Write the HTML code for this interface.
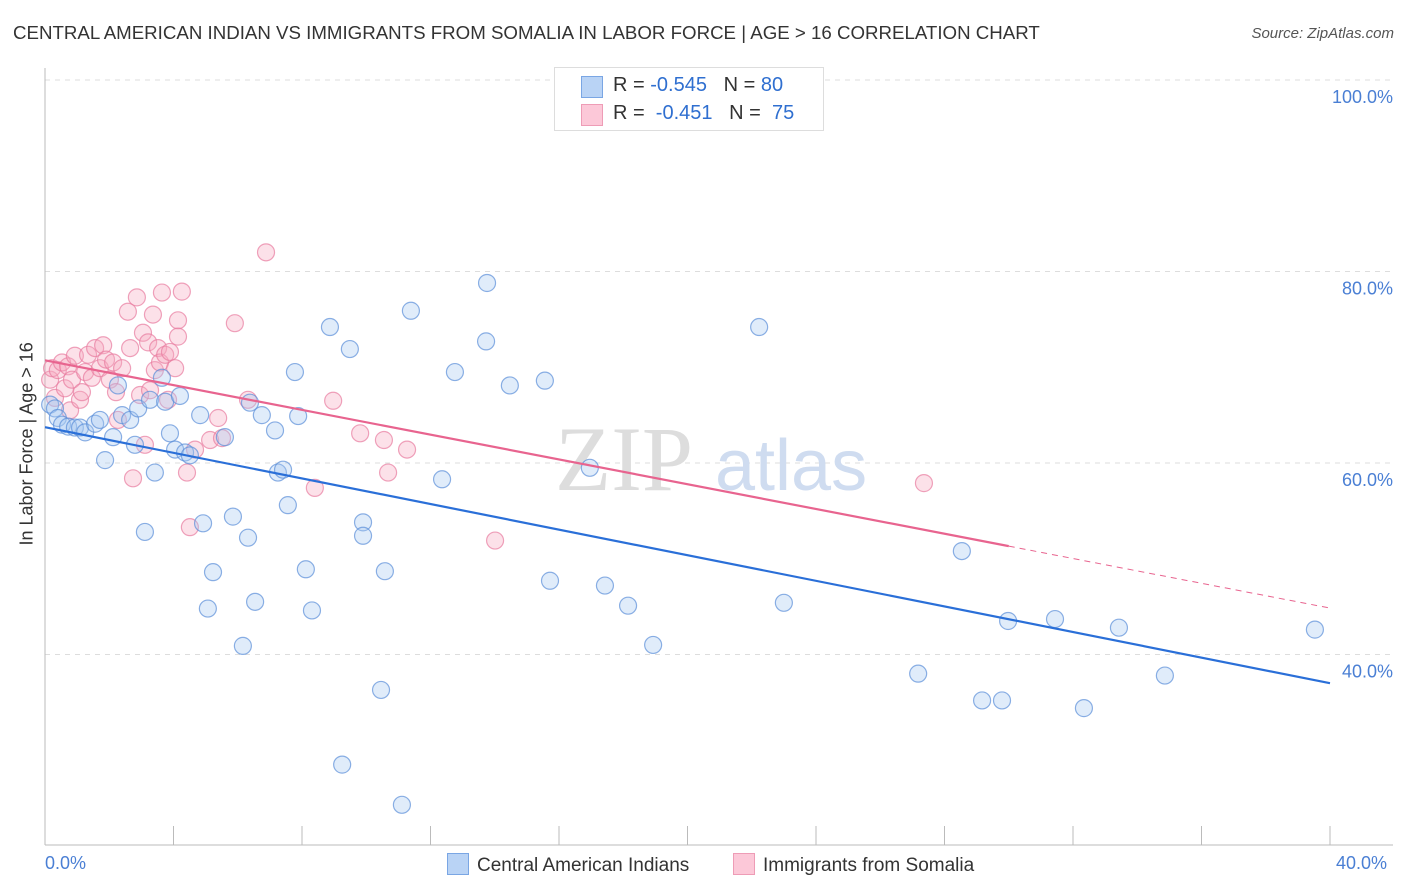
<!DOCTYPE html>
<html><head><meta charset="utf-8">
<style>
body{margin:0;background:#fff;font-family:"Liberation Sans",sans-serif;}
#wrap{position:relative;width:1406px;height:892px;overflow:hidden;}
.t{position:absolute;white-space:nowrap;}
</style></head>
<body>
<div id="wrap">
<div class="t" style="left:13px;top:22px;font-size:18.7px;color:#333;">CENTRAL AMERICAN INDIAN VS IMMIGRANTS FROM SOMALIA IN LABOR FORCE | AGE &gt; 16 CORRELATION CHART</div>
<div class="t" style="right:12px;top:25px;font-size:15px;color:#555;font-style:italic;">Source: ZipAtlas.com</div>
<svg id="svg" width="1406" height="892" style="position:absolute;left:0;top:0"></svg>
</div>
<script>
const yTicks=[100,80,60,40];
const yTickLabels=["100.0%","80.0%","60.0%","40.0%"];
const blueX=[0.16,0.31,0.40,0.53,0.72,0.93,1.09,1.25,1.56,1.71,1.87,2.12,2.27,2.40,2.65,2.80,2.90,3.11,3.27,3.42,3.64,3.74,3.89,4.05,4.20,4.36,4.51,4.83,4.92,5.07,5.23,5.60,5.85,6.16,6.32,6.38,6.54,6.75,7.16,7.25,7.41,7.56,7.78,7.88,8.12,8.31,8.87,9.49,9.90,9.90,10.46,10.58,11.11,11.39,9.25,12.36,12.76,13.73,13.76,14.47,15.56,15.72,16.96,17.43,18.15,18.93,22.23,23.00,27.18,28.54,29.17,29.79,29.98,31.44,32.34,33.43,34.86,39.53];
const blueY=[66.1,65.7,64.7,64.0,63.8,63.7,63.7,63.2,64.1,64.5,60.3,62.7,68.1,65.0,64.5,61.9,65.7,52.8,66.6,59.0,68.9,66.4,63.1,61.4,67.0,61.1,60.8,65.0,53.7,44.8,48.6,62.7,54.4,40.9,52.2,66.3,45.5,65.0,63.4,59.0,59.3,55.6,69.5,64.9,48.9,44.6,74.2,71.9,53.8,52.4,36.3,48.7,24.3,75.9,28.5,58.3,69.5,72.7,78.8,68.1,68.6,47.7,59.5,47.2,45.1,41.0,74.2,45.4,38.0,50.8,35.2,35.2,43.5,43.7,34.4,42.8,37.8,42.6];
const pinkX=[0.16,0.22,0.31,0.40,0.53,0.62,0.72,0.78,0.84,0.93,1.09,1.15,1.25,1.34,1.46,1.56,1.71,1.81,1.90,2.02,2.12,2.21,2.27,2.40,2.58,2.65,2.74,2.86,2.96,3.05,3.11,3.21,3.27,3.36,3.42,3.52,3.58,3.64,3.74,3.83,3.89,4.05,4.14,4.14,4.26,4.42,4.51,4.67,5.14,5.39,5.51,5.91,6.32,6.88,8.40,8.97,9.81,10.55,10.68,11.27,14.01,27.36];
const pinkY=[68.7,69.9,66.8,69.7,70.5,67.8,70.1,65.5,68.7,71.2,66.6,67.4,69.5,71.3,68.9,72.0,69.9,72.3,70.8,68.7,70.5,67.4,64.5,69.9,75.8,72.0,58.4,77.3,67.1,73.6,61.9,72.6,67.6,75.5,69.7,72.0,70.5,77.8,71.3,66.6,71.6,69.9,74.9,73.2,77.9,59.0,53.3,61.4,62.4,64.7,62.6,74.6,66.6,82.0,57.4,66.5,63.1,62.4,59.0,61.4,51.9,57.9];

const X=v=>45+v*32.125, Y=v=>80+(100-v)*9.575;
const svg=document.getElementById('svg');
const NS='http://www.w3.org/2000/svg';
function mk(tag,attrs){const e=document.createElementNS(NS,tag);for(const k in attrs)e.setAttribute(k,attrs[k]);svg.appendChild(e);return e;}
yTicks.forEach((t,i)=>{
 const g=mk('line',{x1:45,x2:1393,y1:Y(t),y2:Y(t),stroke:'#ddd','stroke-dasharray':'5,5'});
 
 
 const tx=mk('text',{x:1393,y:Y(t)+23,'text-anchor':'end','font-size':18,fill:'#4a7fd4','font-family':'Liberation Sans'});
 tx.textContent=yTickLabels[i];
 
 
});
const ax=mk('line',{x1:45,x2:45,y1:68,y2:845,stroke:'#bbb'});


const bx=mk('line',{x1:45,x2:1393,y1:845,y2:845,stroke:'#bbb'});


for(let i=0;i<=10;i++){const tk=mk('line',{x1:X(i*4),x2:X(i*4),y1:826,y2:845,stroke:'#bbb'});
 
 }
const wm=mk('text',{x:555,y:490,'font-size':92,fill:'#ddd','font-family':'Liberation Serif'});wm.textContent='ZIP';


const wm2=mk('text',{x:715,y:490,'font-size':72,fill:'#cfdcf0','font-family':'Liberation Sans'});wm2.textContent='atlas';


function dots(xs,ys,fill,stroke,name){xs.forEach((x,i)=>{const c=mk('circle',{cx:X(x),cy:Y(ys[i]),r:8.5,fill:fill,'fill-opacity':0.35,stroke:stroke,'stroke-opacity':0.7,'stroke-width':1.2});
 
 });}
dots(pinkX,pinkY,'#f7a8c0','#e87ca0','point-somalia');
dots(blueX,blueY,'#a6c8f0','#5b8fd8','point-central-american-indian');
function reg(xs,ys){const n=xs.length;let sx=0,sy=0,sxx=0,sxy=0;for(let i=0;i<n;i++){sx+=xs[i];sy+=ys[i];sxx+=xs[i]*xs[i];sxy+=xs[i]*ys[i];}const b=(n*sxy-sx*sy)/(n*sxx-sx*sx);return [ (sy-b*sx)/n,b];}
const [ba,bb]=reg(blueX,blueY);
const bl=mk('line',{x1:X(0),y1:Y(ba),x2:X(40),y2:Y(ba+bb*40),stroke:'#2a6fd8','stroke-width':2.2});


const [pa,pb]=reg(pinkX,pinkY);
const pl=mk('line',{x1:X(0),y1:Y(pa),x2:X(30),y2:Y(pa+pb*30),stroke:'#e8648f','stroke-width':2.2});


const pd=mk('line',{x1:X(30),y1:Y(pa+pb*30),x2:X(40),y2:Y(pa+pb*40),stroke:'#e8648f','stroke-width':1,'stroke-dasharray':'6,5'});


</script>
<div class="t" style="left:-63px;top:445px;transform:rotate(-90deg);font-size:18px;color:#333;width:180px;text-align:center;">In Labor Force | Age &gt; 16</div>
<div class="t" style="left:45px;top:853px;font-size:18px;color:#4a7fd4;">0.0%</div>
<div class="t" style="left:1336px;top:853px;font-size:18px;color:#4a7fd4;">40.0%</div>
<div style="position:absolute;left:554px;top:67px;width:268px;height:62px;border:1px solid #ddd;background:#fff;font-size:20px;">
 <div style="position:absolute;left:26px;top:8px;width:20px;height:20px;background:#b9d3f5;border:1px solid #7aa6e4;"></div>
 <div class="t" style="left:58px;top:6px;color:#333;">R = <span style="color:#2f6fd0">-0.545</span>&nbsp;&nbsp;&nbsp;N = <span style="color:#2f6fd0">80</span></div>
 <div style="position:absolute;left:26px;top:36px;width:20px;height:20px;background:#fcc8d8;border:1px solid #ee9cb6;"></div>
 <div class="t" style="left:58px;top:34px;color:#333;">R = &nbsp;<span style="color:#2f6fd0">-0.451</span>&nbsp;&nbsp;&nbsp;N = &nbsp;<span style="color:#2f6fd0">75</span></div>
</div>
<div style="position:absolute;left:447px;top:853px;font-size:19px;color:#333;">
 <span style="display:inline-block;width:20px;height:20px;background:#b9d3f5;border:1px solid #7aa6e4;vertical-align:-4px;margin-right:8px;"></span>Central American Indians</div>
<div style="position:absolute;left:733px;top:853px;font-size:19px;color:#333;">
 <span style="display:inline-block;width:20px;height:20px;background:#fcc8d8;border:1px solid #ee9cb6;vertical-align:-4px;margin-right:8px;"></span>Immigrants from Somalia</div>
</body></html>
